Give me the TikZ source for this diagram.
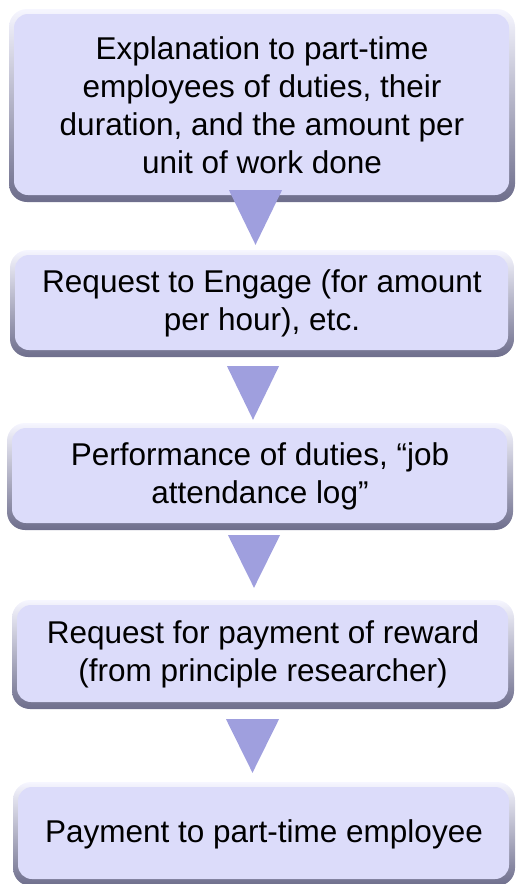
\documentclass[tikz,border=0pt]{standalone}
\usepackage{fontspec}
\setmainfont{Liberation Sans}
\usetikzlibrary{positioning,calc}
\definecolor{boxfill}{RGB}{220,220,250}
\definecolor{bevtop}{RGB}{246,246,255}
\definecolor{bevbot}{RGB}{110,110,140}
\definecolor{trifill}{RGB}{159,159,222}
\tikzset{
stage/.style={
  rounded corners=18pt,
  top color=bevtop,
  bottom color=bevbot,
  inner sep=0pt,
  align=center,
  font=\fontsize{31.5}{38}\selectfont,
  path picture={
    \fill[boxfill,rounded corners=14pt]
      ([shift={(5pt,-5pt)}]path picture bounding box.north west)
      rectangle ([shift={(-6pt,7pt)}]path picture bounding box.south east);
  }
  },
arrowtri/.style={fill=trifill}
}

\begin{document}
\begin{tikzpicture}[x=1pt,y=1pt]
\useasboundingbox (0,0) rectangle (516,-884);
% boxes, top to bottom
\node[stage,minimum width=506pt,minimum height=193pt] (b1) at (262,-105.5)
  {Explanation to part-time\\employees of duties, their\\duration, and the amount per\\unit of work done};
\node[stage,minimum width=504pt,minimum height=107pt] (b2) at (262,-303.5)
  {Request to Engage (for amount\\per hour), etc.};
\node[stage,minimum width=506pt,minimum height=107pt] (b3) at (260,-476.5)
  {Performance of duties, “job\\attendance log”};
\node[stage,minimum width=502pt,minimum height=109pt] (b4) at (263,-654.5)
  {Request for payment of reward\\(from principle researcher)};
\node[stage,minimum width=502pt,minimum height=104pt] (b5) at (264,-834)
  {Payment to part-time employee};
% triangles between boxes
\fill[arrowtri] ([xshift=-33pt,yshift=12pt]b1.south) -- ++(53,0)
  -- ([xshift=-6.5pt,yshift=5pt]b2.north) -- cycle;
\fill[arrowtri] ([xshift=-35pt,yshift=-9pt]b2.south) -- ++(52,0)
  -- ([xshift=-7pt,yshift=3pt]b3.north) -- cycle;
\fill[arrowtri] ([xshift=-32pt,yshift=-5pt]b3.south) -- ++(52,0)
  -- ([xshift=-9pt,yshift=12pt]b4.north) -- cycle;
\fill[arrowtri] ([xshift=-37pt,yshift=-10pt]b4.south) -- ++(53,0)
  -- ([xshift=-11.5pt,yshift=9pt]b5.north) -- cycle;
\end{tikzpicture}
\end{document}
